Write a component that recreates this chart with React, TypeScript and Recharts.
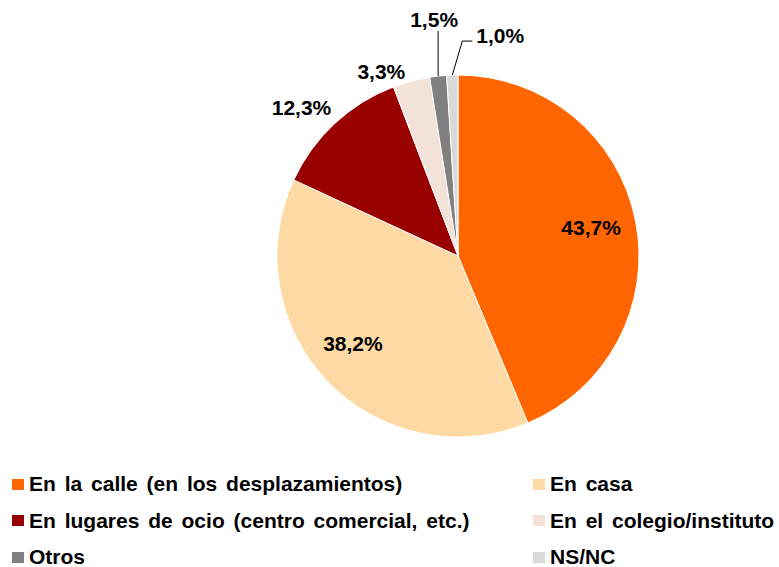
import { PieChart, Pie, Cell, Legend } from 'recharts'

const categories = [
  'En la calle (en los desplazamientos)',
  'En casa',
  'En lugares de ocio (centro comercial, etc.)',
  'En el colegio/instituto',
  'Otros',
  'NS/NC',
]
const values = [43.7, 38.2, 12.3, 3.3, 1.5, 1.0]
const colors = ['#FF6600', '#FFD9A3', '#990000', '#F2E2D8', '#808080', '#D9D9D9']

const data = categories.map((name, i) => ({ name, value: values[i] }))

const FONT = '"Liberation Sans", Arial, sans-serif'
const RAD = Math.PI / 180

// label placement per slice: inside at a radius fraction, or outside with offsets from the rim
const labelCfg: any[] = [
  { inside: 0.75, dy: -2 },
  { inside: 0.76, dx: -6, dy: -8 },
  { dx: -33, dy: -16 },
  { dx: -30, dy: -10 },
  { dx: -4, dy: -57, line: [[0, -45]] },
  { dx: 24, dy: -40, anchor: 'start', line: [[10, -34], [20, -34]] },
]

const fmt = (v: number) => v.toFixed(1).replace('.', ',') + '%'

const renderLabel = (p: any) => {
  const { cx, cy, midAngle, outerRadius, index, value } = p
  const c = labelCfg[index]
  const cos = Math.cos(-midAngle * RAD)
  const sin = Math.sin(-midAngle * RAD)
  let x: number, y: number
  let path: string | null = null
  if (c.inside) {
    x = cx + outerRadius * c.inside * cos + (c.dx || 0)
    y = cy + outerRadius * c.inside * sin + (c.dy || 0)
  } else {
    const ex = cx + outerRadius * cos
    const ey = cy + outerRadius * sin
    x = ex + c.dx
    y = ey + c.dy
    if (c.line) {
      path = `M${ex},${ey}` + c.line.map((pt: number[]) => ` L${ex + pt[0]},${ey + pt[1]}`).join('')
    }
  }
  return (
    <g key={`lbl-${index}`}>
      {path && <path d={path} stroke="#000" strokeWidth={1} fill="none" />}
      <text
        x={x}
        y={y}
        textAnchor={c.anchor || 'middle'}
        dominantBaseline="central"
        fontFamily={FONT}
        fontWeight="bold"
        fontSize={21}
        fill="#000"
      >
        {fmt(value)}
      </text>
    </g>
  )
}

const renderLegend = () => (
  <div style={{ position: 'relative', width: 779, height: 110, fontFamily: FONT, fontWeight: 'bold', fontSize: 21, wordSpacing: 3, color: '#000' }}>
    {categories.map((name, i) => (
      <div
        key={name}
        style={{
          position: 'absolute',
          left: i % 2 === 0 ? 12 : 533,
          top: Math.floor(i / 2) * 36.5,
          height: 24,
          display: 'flex',
          alignItems: 'center',
          whiteSpace: 'nowrap',
        }}
      >
        <span style={{ width: 12, height: 11, background: colors[i], display: 'inline-block', marginRight: 5 }} />
        <span>{name}</span>
      </div>
    ))}
  </div>
)

export default function App() {
  return (
    <div style={{ position: 'absolute', left: 0, top: 0, width: 779, height: 567, background: '#fff' }}>
      <PieChart width={779} height={567} margin={{ top: 0, right: 0, bottom: 0, left: 0 }}>
        <Pie
          data={data}
          dataKey="value"
          cx={458}
          cy={256}
          outerRadius={181}
          startAngle={90}
          endAngle={-270}
          stroke="#fff"
          strokeWidth={1}
          label={renderLabel}
          labelLine={false}
          isAnimationActive={false}
        >
          {data.map((d, i) => (
            <Cell key={d.name} fill={colors[i]} />
          ))}
        </Pie>
        <Legend content={renderLegend} wrapperStyle={{ position: 'absolute', left: 0, top: 472, width: 779 }} />
      </PieChart>
    </div>
  )
}
